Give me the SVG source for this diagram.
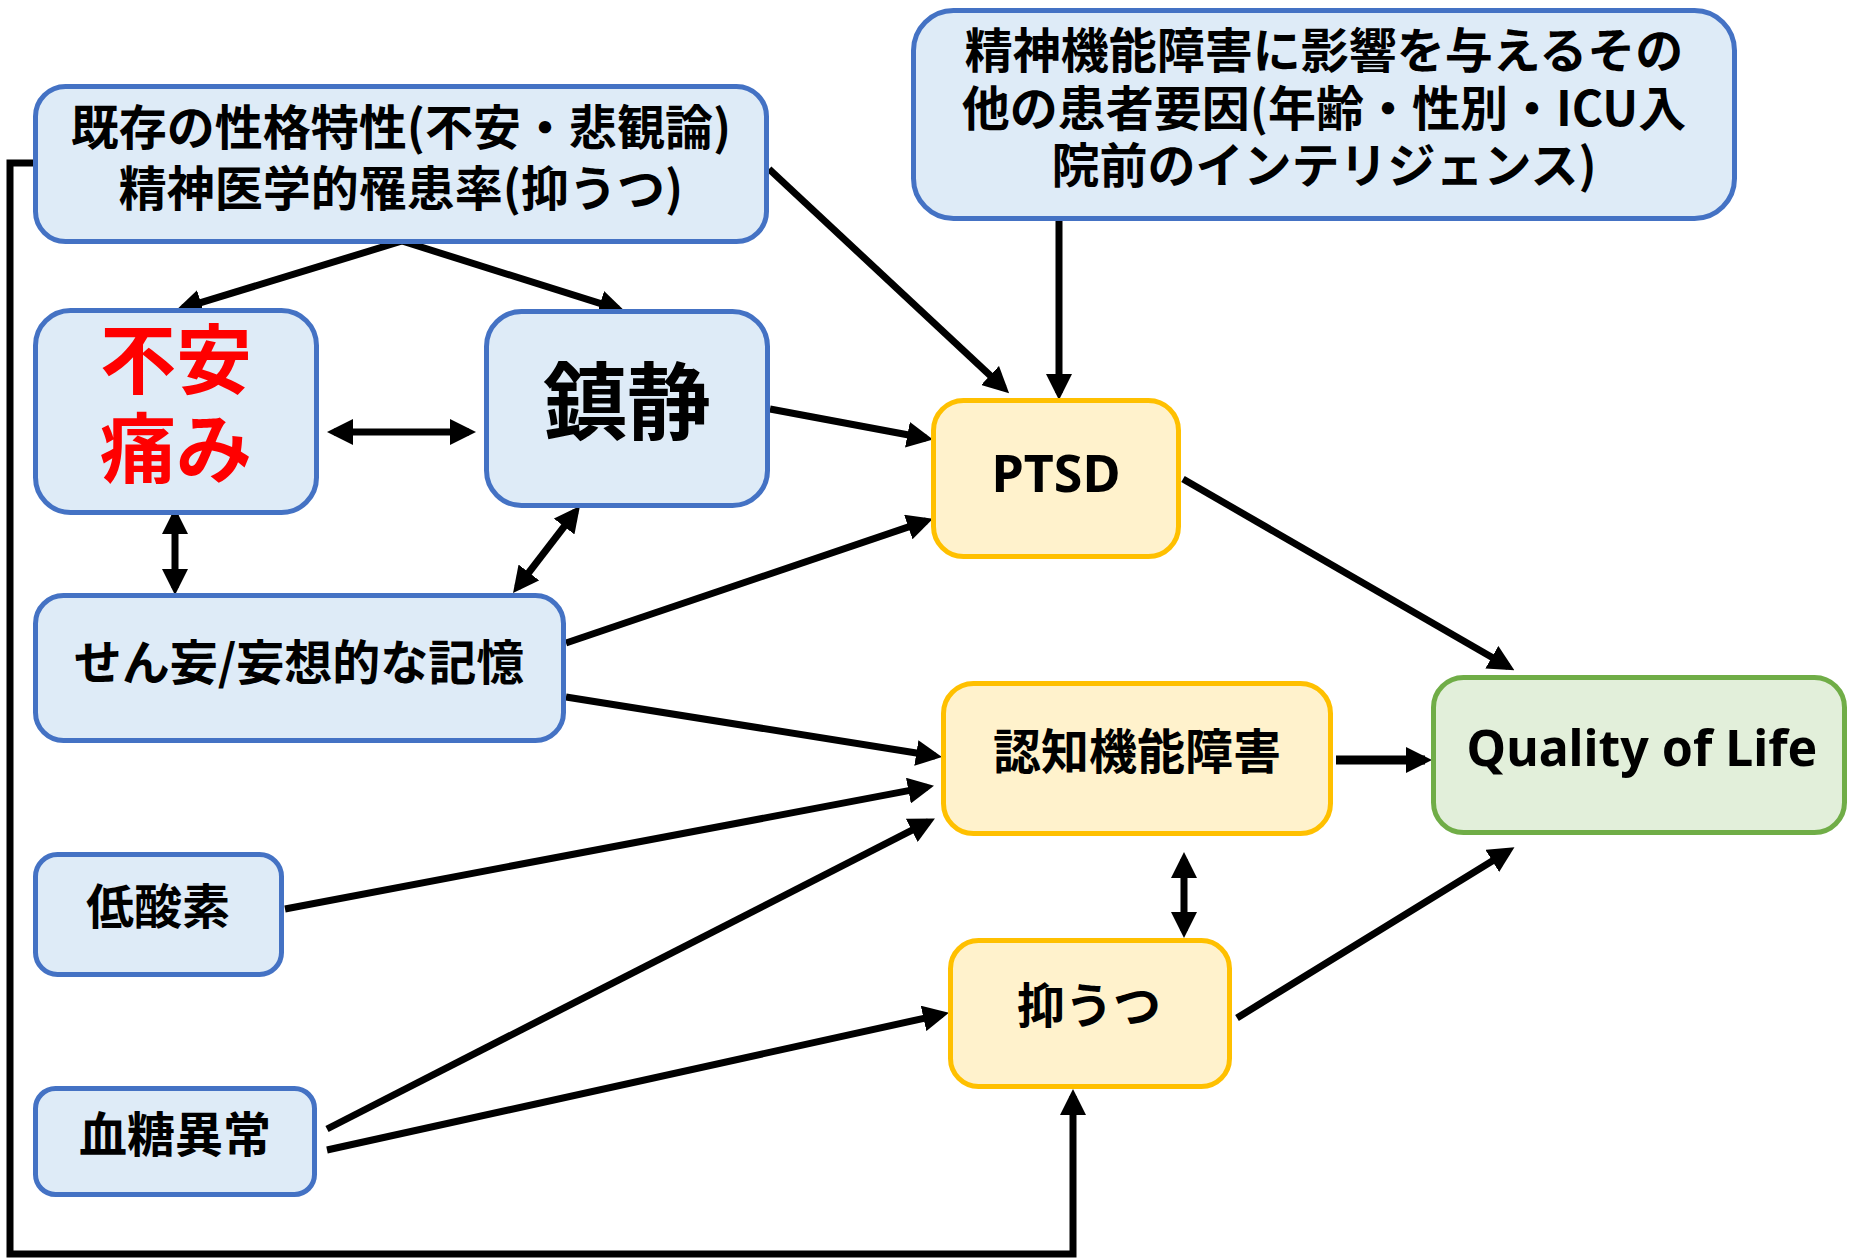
<svg xmlns="http://www.w3.org/2000/svg" width="1849" height="1259" viewBox="0 0 1849 1259">
<style>
.b{fill:#DEEBF7;stroke:#4472C4;stroke-width:5}
.y{fill:#FFF2CC;stroke:#FFC000;stroke-width:5}
.g{fill:#E2EFDA;stroke:#70AD47;stroke-width:5}
text{font-family:"Noto Sans CJK JP","Noto Sans",sans-serif;font-weight:bold;fill:#000;text-anchor:middle;dominant-baseline:central;font-size:48px}
.lat{font-family:"Noto Sans","Noto Sans CJK JP",sans-serif}
.red{fill:#FF0000;font-size:76px}
.c line,.c polyline{stroke:#000;stroke-width:7;fill:none;stroke-linejoin:miter}
.e{marker-end:url(#ah)}
.d{marker-start:url(#ah);marker-end:url(#ah)}
</style>
<defs>
<marker id="ah" markerUnits="userSpaceOnUse" markerWidth="26" markerHeight="26" refX="19" refY="13" orient="auto-start-reverse" viewBox="0 0 26 26">
<path d="M0,0 L26,13 L0,26 z" fill="#000"/>
</marker>
</defs>
<rect width="1849" height="1259" fill="#fff"/>
<g class="c" id="connectors">
<polyline class="e" points="33,163 10,163 10,1254 1073,1254 1073,1096"/>
<line class="e" x1="402" y1="241" x2="182.7" y2="308.2"/>
<line class="e" x1="402" y1="241" x2="618.3" y2="309.2"/>
<line class="e" x1="769" y1="169" x2="1004" y2="388.4"/>
<line class="e" x1="1059" y1="220" x2="1059" y2="393"/>
<line class="d" x1="334" y1="432" x2="469" y2="432"/>
<line class="d" x1="175" y1="515" x2="175" y2="588"/>
<line class="d" x1="575.7" y1="511.5" x2="517.3" y2="587.5"/>
<line class="e" x1="770" y1="409" x2="926.1" y2="438.2"/>
<line class="e" x1="566" y1="643" x2="926.3" y2="520.9"/>
<line class="e" x1="566" y1="697" x2="935.1" y2="756"/>
<line class="e" x1="285" y1="909" x2="927.1" y2="787.1"/>
<line class="e" x1="327" y1="1129" x2="928.7" y2="821.7"/>
<line class="e" x1="327" y1="1150" x2="942.1" y2="1014.3"/>
<line class="e" x1="1183" y1="479" x2="1508.3" y2="666.7"/>
<line class="e" x1="1336" y1="760" x2="1425" y2="760" style="stroke-width:9"/>
<line class="d" x1="1184" y1="859" x2="1184" y2="931"/>
<line class="e" x1="1237" y1="1018" x2="1508.5" y2="851"/>
</g>
<g id="n_kizon">
<rect class="b" x="35.5" y="86.5" width="731" height="155" rx="30"/>
<text x="401" y="124">既存の性格特性(不安・悲観論)</text>
<text x="401" y="185">精神医学的罹患率(抑うつ)</text>
</g>
<g id="n_other">
<rect class="b" x="913.5" y="10.5" width="821" height="208" rx="40"/>
<text x="1324" y="47">精神機能障害に影響を与えるその</text>
<text x="1324" y="105">他の患者要因(年齢・性別・ICU入</text>
<text x="1324" y="162">院前のインテリジェンス)</text>
</g>
<g id="n_anxiety">
<rect class="b" x="35.5" y="310.5" width="281" height="202" rx="35"/>
<text class="red" x="176" y="355">不安</text>
<text class="red" x="176" y="444">痛み</text>
</g>
<g id="n_sedation">
<rect class="b" x="486.5" y="311.5" width="281" height="194" rx="35"/>
<text x="627" y="396" style="font-size:84px">鎮静</text>
</g>
<g id="n_ptsd">
<rect class="y" x="933.5" y="400.5" width="245" height="156" rx="30"/>
<text class="lat" x="1056" y="471" style="font-size:52px">PTSD</text>
</g>
<g id="n_delirium">
<rect class="b" x="35.5" y="595.5" width="528" height="145" rx="28"/>
<text x="299" y="659">せん妄/妄想的な記憶</text>
</g>
<g id="n_cognitive">
<rect class="y" x="943.5" y="683.5" width="387" height="150" rx="30"/>
<text x="1137" y="748">認知機能障害</text>
</g>
<g id="n_qol">
<rect class="g" x="1433.5" y="677.5" width="411" height="155" rx="30"/>
<text class="lat" x="1642" y="747" style="font-size:50px">Quality of Life</text>
</g>
<g id="n_hypoxia">
<rect class="b" x="35.5" y="854.5" width="246" height="120" rx="22"/>
<text x="158" y="903">低酸素</text>
</g>
<g id="n_depression">
<rect class="y" x="950.5" y="940.5" width="279" height="146" rx="28"/>
<text x="1089" y="1002">抑うつ</text>
</g>
<g id="n_glucose">
<rect class="b" x="35.5" y="1088.5" width="279" height="106" rx="20"/>
<text x="175" y="1131">血糖異常</text>
</g>
</svg>
